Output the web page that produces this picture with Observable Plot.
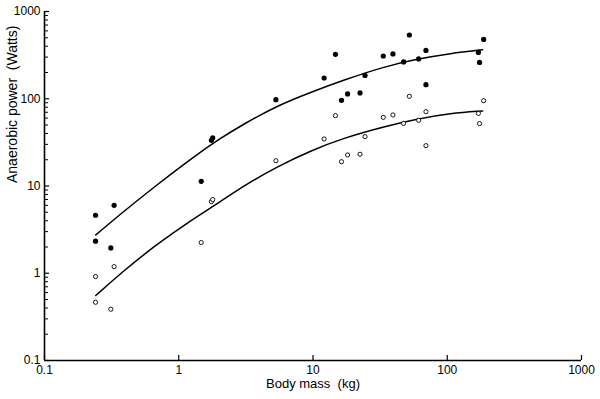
<!DOCTYPE html>
<html><head><meta charset="utf-8">
<script src="https://cdn.jsdelivr.net/npm/d3@7"></script>
<script src="https://cdn.jsdelivr.net/npm/@observablehq/plot@0.6"></script>
<style>
html,body{margin:0;padding:0;background:#fff;}
svg text{white-space:pre;}
</style></head><body><div id="chart"></div>
<script>
// Body mass (kg) of each species
const bodyMass = [0.240, 0.330, 0.240, 0.312, 1.47, 1.75, 1.79, 5.29, 12.1, 14.7, 16.3, 18.1, 22.4, 24.4, 33.4, 39.4, 47.3, 52.2, 61.2, 69.4, 69.4, 170.6, 174, 186.7];
// Filled circles (peak anaerobic power, W)
const peakPower = [4.62, 6.01, 2.33, 1.95, 11.3, 33.4, 35.6, 97.7, 173, 323, 95.9, 113.5, 116.5, 185, 309, 326, 264, 538, 286, 358, 145, 340, 261, 479];
// Open circles (mean anaerobic power, W)
const meanPower = [0.917, 1.19, 0.465, 0.387, 2.25, 6.62, 6.99, 19.5, 34.6, 64, 19.0, 22.7, 23.1, 36.8, 61.2, 65.2, 52.2, 106.6, 56.6, 71.1, 29.0, 68, 51.9, 95];
// Fitted curves
const fitMass  = [0.241, 0.390, 0.692, 1.224, 2.049, 3.056, 5.42, 9.60, 17.0, 33.8, 59.9, 106.0, 183.5];
const fitUpper = [2.75, 5.13, 10.38, 20.4, 35.4, 51.4, 83.4, 118.4, 164.2, 233.2, 285.7, 331.1, 365.0];
const fitLower = [0.556, 1.074, 2.17, 4.02, 6.63, 10.11, 16.68, 25.4, 35.6, 47.9, 58.7, 68.1, 72.5];
// Axes
const xTicks = [0.1, 1, 10, 100, 1000];
const xTickLabels = ["0.1", "1", "10", "100", "1000"];
const yTicks = [0.1, 1, 10, 100, 1000];
const yTickLabels = ["0.1", "1", "10", "100", "1000"];
const yMinorMultipliers = [2, 3, 4, 5, 6, 7, 8, 9];
const xLabel = "Body mass  (kg)";
const yLabel = "Anaerobic power  (Watts)";

const yMinor = yTicks.slice(0, -1).flatMap(t => yMinorMultipliers.map(k => +(t * k).toPrecision(3)));
const xFmt = new Map(xTicks.map((t, i) => [t, xTickLabels[i]]));
const yFmt = new Map(yTicks.map((t, i) => [t, yTickLabels[i]]));

const pts = bodyMass.map((m, i) => ({m, p: peakPower[i], q: meanPower[i]}));
const upper = fitMass.map((m, i) => ({m, y: fitUpper[i]}));
const lower = fitMass.map((m, i) => ({m, y: fitLower[i]}));

const chart = Plot.plot({
  width: 600, height: 399,
  marginTop: 11, marginBottom: 39, marginLeft: 44, marginRight: 19,
  style: {fontFamily: "'Liberation Sans', Arial, sans-serif", fontSize: "12px", background: "white", color: "black"},
  x: {type: "log", domain: [0.1, 1000]},
  y: {type: "log", domain: [0.1, 1000]},
  marks: [
    Plot.axisY(yMinor, {tickSize: -4, text: null, label: null, strokeWidth: 1}),
    Plot.axisY(yTicks, {tickSize: -5, text: null, label: null, strokeWidth: 1.2}),
    Plot.axisY(yTicks, {tickSize: 0, tickPadding: 4, tickFormat: d => yFmt.get(d), label: null}),
    Plot.axisX(xTicks, {tickSize: -5, text: null, label: null, strokeWidth: 1.2}),
    Plot.axisX(xTicks, {tickSize: 0, tickPadding: 5, tickFormat: d => xFmt.get(d), label: null}),
    Plot.ruleX([0.1], {strokeWidth: 1.6}),
    Plot.ruleY([0.1], {strokeWidth: 1.6}),
    Plot.line(upper, {x: "m", y: "y", curve: "basis", strokeWidth: 1.5}),
    Plot.line(lower, {x: "m", y: "y", curve: "basis", strokeWidth: 1.5}),
    Plot.dot(pts, {x: "m", y: "p", r: 2.6, fill: "black"}),
    Plot.dot(pts, {x: "m", y: "q", r: 2.1, fill: "white", stroke: "black", strokeWidth: 0.9}),
    Plot.text([xLabel], {text: d => d, frameAnchor: "bottom", dy: 27, fontSize: 13}),
    Plot.text([yLabel], {text: d => d, frameAnchor: "left", rotate: -90, dx: -32, dy: -3, fontSize: 14})
  ]
});
document.getElementById("chart").appendChild(chart);
</script>
</body></html>
